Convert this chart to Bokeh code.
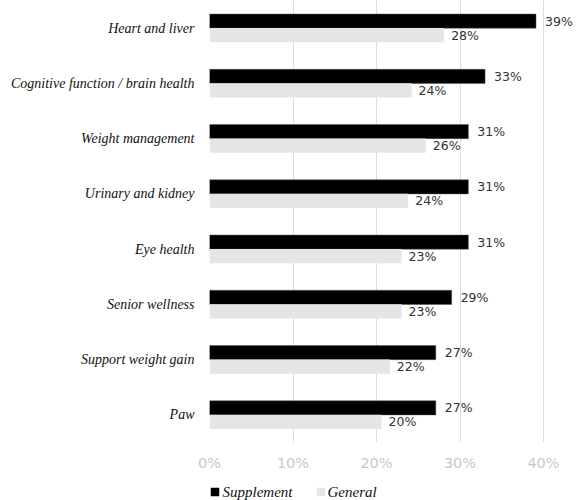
from bokeh.plotting import figure
from bokeh.models import ColumnDataSource, FactorRange, FixedTicker, PrintfTickFormatter, Range1d
from bokeh.layouts import column
from bokeh.transform import dodge
from bokeh.core.properties import value
from bokeh.embed import file_html
from bokeh.resources import INLINE

categories = ["Heart and liver", "Cognitive function / brain health", "Weight management",
              "Urinary and kidney", "Eye health", "Senior wellness", "Support weight gain", "Paw"]
supplement = [39.1, 33.0, 31.0, 31.0, 31.0, 29.0, 27.1, 27.1]
general = [28.1, 24.2, 25.9, 23.8, 23.0, 23.0, 21.6, 20.6]
supplement_labels = ["39%", "33%", "31%", "31%", "31%", "29%", "27%", "27%"]
general_labels = ["28%", "24%", "26%", "24%", "23%", "23%", "22%", "20%"]
x_ticks = [0, 10, 20, 30, 40]
series_names = ["Supplement", "General"]
series_colors = ["#000000", "#e6e5e5"]

src = ColumnDataSource(dict(cat=categories, sup=supplement, gen=general,
                            sup_lab=supplement_labels, gen_lab=general_labels))

p = figure(width=577, height=478, output_backend="svg", toolbar_location=None,
           y_range=FactorRange(*list(reversed(categories)), range_padding=0),
           x_range=Range1d(0, 44.07),
           min_border_left=209, min_border_right=0, min_border_top=0, min_border_bottom=36)

p.outline_line_color = None
p.background_fill_color = "white"
p.border_fill_color = "white"

p.hbar(y=dodge("cat", 0.127, range=p.y_range), right="sup", left=0, height=0.255,
       source=src, fill_color=series_colors[0], line_color="#555555", line_width=0.5)
p.hbar(y=dodge("cat", -0.127, range=p.y_range), right="gen", left=0, height=0.255,
       source=src, fill_color=series_colors[1], line_color=None)

p.text(x="sup", y=dodge("cat", 0.127, range=p.y_range), text="sup_lab", source=src,
       x_offset=9, text_align="left", text_baseline="middle",
       text_font=value("DejaVu Sans"), text_font_size="12.5px", text_color="#333333")
p.text(x="gen", y=dodge("cat", -0.127, range=p.y_range), text="gen_lab", source=src,
       x_offset=7, text_align="left", text_baseline="middle",
       text_font=value("DejaVu Sans"), text_font_size="12.5px", text_color="#333333")

# axes
p.xaxis.ticker = FixedTicker(ticks=x_ticks)
p.xaxis.formatter = PrintfTickFormatter(format="%d%%")
p.xaxis.axis_line_color = None
p.xaxis.major_tick_line_color = None
p.xaxis.minor_tick_line_color = None
p.xaxis.major_tick_out = 0
p.xaxis.major_label_text_color = "#c8c8c8"
p.xaxis.major_label_text_font = "DejaVu Sans"
p.xaxis.major_label_text_font_size = "14.5px"
p.xaxis.major_label_standoff = 12

p.yaxis.axis_line_color = None
p.yaxis.major_tick_line_color = None
p.yaxis.minor_tick_line_color = None
p.yaxis.major_tick_out = 0
p.yaxis.major_label_text_font = "Liberation Serif"
p.yaxis.major_label_text_font_style = "italic"
p.yaxis.major_label_text_font_size = "14px"
p.yaxis.major_label_text_color = "#111111"
p.yaxis.major_label_standoff = 15

p.xgrid.grid_line_color = "#dddddd"
p.xgrid.grid_line_width = 1
p.ygrid.grid_line_color = None

# legend strip (pixel coordinate space, frame aligned with main plot frame)
p2 = figure(width=577, height=22, output_backend="svg", toolbar_location=None,
            x_axis_type=None, y_axis_type=None, x_range=Range1d(209, 577), y_range=Range1d(0, 22),
            min_border_left=209, min_border_right=0, min_border_top=0, min_border_bottom=0)
p2.outline_line_color = None
p2.xgrid.visible = False
p2.ygrid.visible = False
p2.background_fill_color = "white"
p2.border_fill_color = "white"

legend_src = ColumnDataSource(dict(name=series_names, color=series_colors,
                                   sx=[214.5, 320.5], tx=[222, 327]))
p2.rect(x="sx", y=8.5, width=8.5, height=8.5, width_units="screen", height_units="screen",
        fill_color="color", line_color=None, source=legend_src)
p2.text(x="tx", y=8.5, text="name", source=legend_src, text_align="left", text_baseline="middle",
        text_font=value("Liberation Serif"), text_font_style="italic",
        text_font_size="15px", text_color="#111111")

layout = column(p, p2, spacing=0)
open("out.html", "w").write(file_html(layout, INLINE))
